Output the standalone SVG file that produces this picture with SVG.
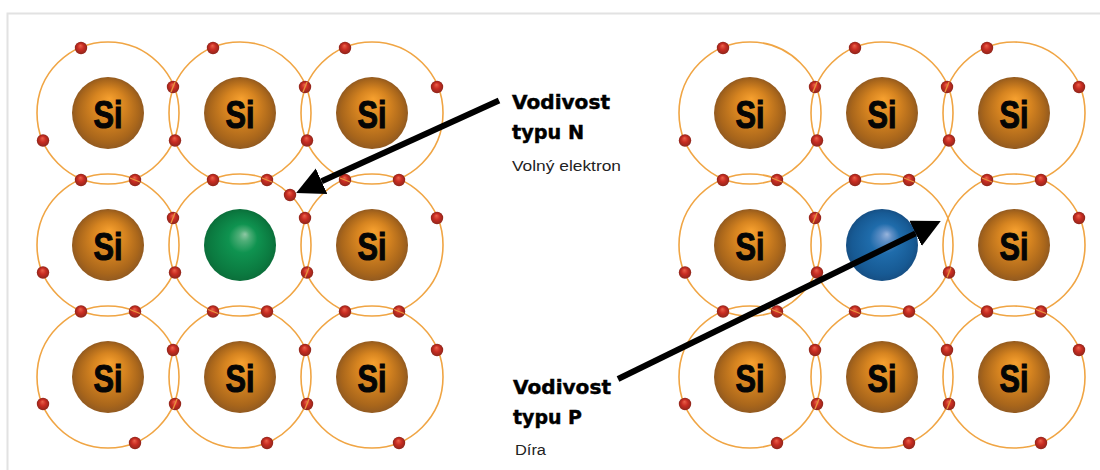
<svg xmlns="http://www.w3.org/2000/svg" width="1100" height="470" viewBox="0 0 1100 470">
<style>
.orbit{fill:none;stroke:#f0a544;stroke-width:1.6}
.si{font-family:"Liberation Sans",Arial,sans-serif;font-weight:700;font-size:38px;fill:#050505;stroke:#050505;stroke-width:1.1;text-anchor:middle}
.head{font-family:"DejaVu Sans",sans-serif;font-weight:700;font-size:20px;fill:#000;stroke:#000;stroke-width:.45}
.note{font-family:"Liberation Sans",Arial,sans-serif;font-size:15.5px;fill:#222}
.arrow{stroke:#000;stroke-width:6;fill:none;marker-end:url(#tip)}
.frame{stroke:#e2e2e2;stroke-width:2;fill:none}
</style>
<defs>
<radialGradient id="core" cx=".5" cy=".5" r=".5" fx=".52" fy=".3">
<stop offset="0" stop-color="#f6a02f"/><stop offset=".45" stop-color="#d68420"/><stop offset=".85" stop-color="#a9661b"/><stop offset="1" stop-color="#925a20"/>
</radialGradient>
<radialGradient id="greenCore" cx=".5" cy=".5" r=".5" fx=".57" fy=".35">
<stop offset="0" stop-color="#8fc8a4"/><stop offset=".15" stop-color="#4fae78"/><stop offset=".4" stop-color="#0f9350"/><stop offset=".85" stop-color="#0b7a40"/><stop offset="1" stop-color="#0b6e3a"/>
</radialGradient>
<radialGradient id="blueCore" cx=".5" cy=".5" r=".5" fx=".57" fy=".35">
<stop offset="0" stop-color="#98b4dc"/><stop offset=".16" stop-color="#5f8fc6"/><stop offset=".42" stop-color="#1f6cab"/><stop offset=".85" stop-color="#175a94"/><stop offset="1" stop-color="#164f84"/>
</radialGradient>
<radialGradient id="redBall" cx=".5" cy=".5" r=".5" fx=".45" fy=".3">
<stop offset="0" stop-color="#e9624a"/><stop offset=".5" stop-color="#c92c22"/><stop offset="1" stop-color="#8f261b"/>
</radialGradient>
<marker id="tip" markerUnits="userSpaceOnUse" markerWidth="30" markerHeight="30" refX="0" refY="14" orient="auto">
<path d="M0 0L28 14L0 28Z" fill="#000"/>
</marker>
<g id="e"><circle r="6.2" fill="url(#redBall)"/></g>
<!-- electron with a neighbouring orbit passing over it, shallow and steep crossings -->
<g id="eh"><circle r="6.2" fill="url(#redBall)"/><path d="M-5-2L5 2" stroke="#e8963e" stroke-width="1.3"/></g>
<g id="ev"><circle r="6.2" fill="url(#redBall)"/><path d="M-2 5L2-5" stroke="#e8963e" stroke-width="1.3"/></g>
<g id="siAtom"><circle class="orbit" r="71"/><circle r="36" fill="url(#core)"/><text class="si" y="14.5" textLength="29" lengthAdjust="spacingAndGlyphs">Si</text></g>
</defs>
<rect width="1100" height="470" fill="#fff"/>
<path class="frame" d="M7.5 470V13.5H1100"/>

<g id="atom-l1" transform="translate(108 113)"><use href="#siAtom"/></g>
<g id="atom-l2" transform="translate(240 113)"><use href="#siAtom"/></g>
<g id="atom-l3" transform="translate(372 113)"><use href="#siAtom"/></g>
<g id="atom-l4" transform="translate(108 245)"><use href="#siAtom"/></g>
<g id="atom-l5" transform="translate(240 245)"><circle class="orbit" r="71"/><circle r="36" fill="url(#greenCore)"/></g>
<g id="atom-l6" transform="translate(372 245)"><use href="#siAtom"/></g>
<g id="atom-l7" transform="translate(108 377)"><use href="#siAtom"/></g>
<g id="atom-l8" transform="translate(240 377)"><use href="#siAtom"/></g>
<g id="atom-l9" transform="translate(372 377)"><use href="#siAtom"/></g>

<g id="atom-r1" transform="translate(750 113)"><use href="#siAtom"/></g>
<g id="atom-r2" transform="translate(882 113)"><use href="#siAtom"/></g>
<g id="atom-r3" transform="translate(1014 113)"><use href="#siAtom"/></g>
<g id="atom-r4" transform="translate(750 245)"><use href="#siAtom"/></g>
<g id="atom-r5" transform="translate(882 245)"><circle class="orbit" r="71"/><circle r="36" fill="url(#blueCore)"/></g>
<g id="atom-r6" transform="translate(1014 245)"><use href="#siAtom"/></g>
<g id="atom-r7" transform="translate(750 377)"><use href="#siAtom"/></g>
<g id="atom-r8" transform="translate(882 377)"><use href="#siAtom"/></g>
<g id="atom-r9" transform="translate(1014 377)"><use href="#siAtom"/></g>

<!-- valence electrons of the left lattice -->
<g id="electrons-left">
<use href="#e" x="81" y="48"/><use href="#e" x="213" y="48"/><use href="#e" x="345" y="48"/>
<use href="#ev" x="173" y="87"/><use href="#ev" x="305" y="87"/><use href="#e" x="437" y="87"/>
<use href="#e" x="43" y="140.5"/><use href="#e" x="175" y="140.5"/><use href="#e" x="307" y="140.5"/>
<use href="#e" x="81" y="180"/><use href="#eh" x="135" y="180"/><use href="#e" x="213" y="180"/><use href="#eh" x="267" y="180"/><use href="#eh" x="345" y="180"/><use href="#e" x="399" y="180"/>
<use href="#ev" x="173" y="218"/><use href="#e" x="305" y="218"/><use href="#e" x="437" y="218"/>
<use href="#e" x="43" y="272.5"/><use href="#e" x="175" y="272.5"/><use href="#ev" x="307" y="272.5"/>
<use href="#e" x="81" y="311.5"/><use href="#eh" x="135" y="311.5"/><use href="#eh" x="213" y="311.5"/><use href="#e" x="267" y="311.5"/><use href="#e" x="345" y="311.5"/><use href="#eh" x="399" y="311.5"/>
<use href="#e" x="173" y="350"/><use href="#e" x="305" y="350"/><use href="#e" x="437" y="350"/>
<use href="#e" x="43" y="404"/><use href="#ev" x="175" y="404"/><use href="#ev" x="307" y="404"/>
<use href="#e" x="135" y="443"/><use href="#e" x="267" y="443"/><use href="#e" x="399" y="443"/>
<use href="#e" x="290" y="195"/>
</g>

<!-- valence electrons of the right lattice; the slot beside the centre atom stays empty -->
<g id="electrons-right" transform="translate(642 0)">
<use href="#e" x="81" y="48"/><use href="#e" x="213" y="48"/><use href="#e" x="345" y="48"/>
<use href="#ev" x="173" y="87"/><use href="#ev" x="305" y="87"/><use href="#e" x="437" y="87"/>
<use href="#e" x="43" y="140.5"/><use href="#e" x="175" y="140.5"/><use href="#e" x="307" y="140.5"/>
<use href="#e" x="81" y="180"/><use href="#eh" x="135" y="180"/><use href="#e" x="213" y="180"/><use href="#eh" x="267" y="180"/><use href="#eh" x="345" y="180"/><use href="#e" x="399" y="180"/>
<use href="#ev" x="173" y="218"/><use href="#e" x="437" y="218"/>
<use href="#e" x="43" y="272.5"/><use href="#e" x="175" y="272.5"/><use href="#ev" x="307" y="272.5"/>
<use href="#e" x="81" y="311.5"/><use href="#eh" x="135" y="311.5"/><use href="#eh" x="213" y="311.5"/><use href="#e" x="267" y="311.5"/><use href="#e" x="345" y="311.5"/><use href="#eh" x="399" y="311.5"/>
<use href="#e" x="173" y="350"/><use href="#e" x="305" y="350"/><use href="#e" x="437" y="350"/>
<use href="#e" x="43" y="404"/><use href="#ev" x="175" y="404"/><use href="#ev" x="307" y="404"/>
<use href="#e" x="135" y="443"/><use href="#e" x="267" y="443"/><use href="#e" x="399" y="443"/>
</g>

<g id="connectors">
<path class="arrow" d="M499 100.5L321.6 181.3"/>
<path class="arrow" d="M618 379L915.6 233.4"/>
</g>

<g id="label-n">
<text class="head" x="512" y="109" textLength="98" lengthAdjust="spacingAndGlyphs">Vodivost</text>
<text class="head" x="512" y="139" textLength="72" lengthAdjust="spacingAndGlyphs">typu N</text>
<text class="note" x="512" y="170.5" textLength="109" lengthAdjust="spacingAndGlyphs">Volný elektron</text>
</g>
<g id="label-p">
<text class="head" x="513" y="394" textLength="98" lengthAdjust="spacingAndGlyphs">Vodivost</text>
<text class="head" x="513" y="424" textLength="69" lengthAdjust="spacingAndGlyphs">typu P</text>
<text class="note" x="515" y="455" textLength="31" lengthAdjust="spacingAndGlyphs">Díra</text>
</g>
</svg>
